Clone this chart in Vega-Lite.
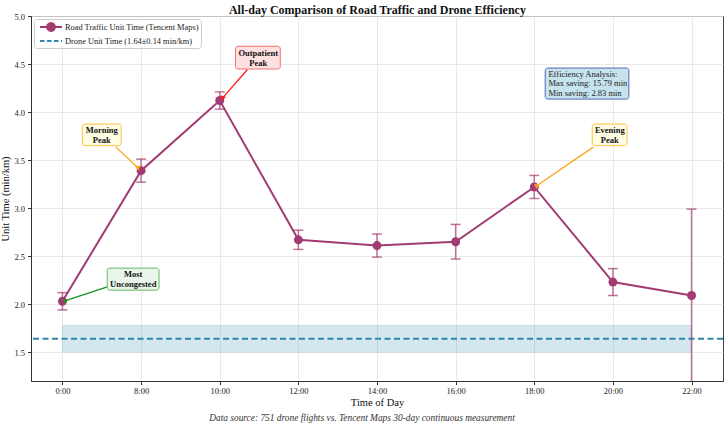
{
  "$schema": "https://vega.github.io/schema/vega-lite/v6.json",
  "autosize": {"type": "pad"},
  "padding": {"left": 0, "top": 3, "right": 2, "bottom": 2},
  "background": "white",
  "config": {
    "font": "Liberation Serif",
    "view": {"stroke": "#444", "strokeWidth": 1},
    "axis": {
      "grid": true,
      "gridColor": "#e3e3e3",
      "gridWidth": 0.8,
      "domainColor": "#333",
      "domainWidth": 1,
      "tickColor": "#333",
      "tickSize": 3.5,
      "labelFont": "Liberation Serif",
      "labelFontSize": 8.5,
      "labelColor": "#222",
      "labelPadding": 3,
      "titleFont": "Liberation Serif",
      "titleFontSize": 10.5,
      "titleFontWeight": "normal",
      "titleColor": "#111"
    }
  },
  "title": {
    "text": "All-day Comparison of Road Traffic and Drone Efficiency",
    "font": "Liberation Serif",
    "fontSize": 12,
    "fontWeight": "bold",
    "color": "#111",
    "anchor": "middle",
    "dx": 15,
    "offset": -5
  },
  "datasets": {
    "road": [
      {"slot": 0, "time": "0:00", "value": 2.03, "sd": 0.09, "series": "Road Traffic Unit Time (Tencent Maps)"},
      {"slot": 1, "time": "8:00", "value": 3.39, "sd": 0.12, "series": "Road Traffic Unit Time (Tencent Maps)"},
      {"slot": 2, "time": "10:00", "value": 4.12, "sd": 0.09, "series": "Road Traffic Unit Time (Tencent Maps)"},
      {"slot": 3, "time": "12:00", "value": 2.67, "sd": 0.10, "series": "Road Traffic Unit Time (Tencent Maps)"},
      {"slot": 4, "time": "14:00", "value": 2.61, "sd": 0.12, "series": "Road Traffic Unit Time (Tencent Maps)"},
      {"slot": 5, "time": "16:00", "value": 2.65, "sd": 0.18, "series": "Road Traffic Unit Time (Tencent Maps)"},
      {"slot": 6, "time": "18:00", "value": 3.22, "sd": 0.12, "series": "Road Traffic Unit Time (Tencent Maps)"},
      {"slot": 7, "time": "20:00", "value": 2.23, "sd": 0.14, "series": "Road Traffic Unit Time (Tencent Maps)"},
      {"slot": 8, "time": "22:00", "value": 2.09, "sd": 0.90, "series": "Road Traffic Unit Time (Tencent Maps)"}
    ],
    "drone": [
      {"series": "Drone Unit Time (1.64±0.14 min/km)", "value": 1.64, "lo": 1.50, "hi": 1.78, "from": 0, "to": 8}
    ],
    "notes": [
      {"label": "Outpatient\nPeak", "kind": "outpatient", "tx": 2.49, "ty": 4.612, "bx0": 2.20, "bx1": 2.77, "by0": 4.685, "by1": 4.448, "ax0": 2.35, "ay0": 4.44, "ax1": 2.04, "ay1": 4.15},
      {"label": "Morning\nPeak", "kind": "peak", "tx": 0.50, "ty": 3.81, "bx0": 0.253, "bx1": 0.747, "by0": 3.875, "by1": 3.65, "ax0": 0.68, "ay0": 3.635, "ax1": 0.96, "ay1": 3.42},
      {"label": "Evening\nPeak", "kind": "peak", "tx": 6.96, "ty": 3.81, "bx0": 6.737, "bx1": 7.18, "by0": 3.875, "by1": 3.65, "ax0": 6.75, "ay0": 3.635, "ax1": 6.03, "ay1": 3.232},
      {"label": "Most\nUncongested", "kind": "calm", "tx": 0.90, "ty": 2.31, "bx0": 0.57, "bx1": 1.228, "by0": 2.375, "by1": 2.146, "ax0": 0.57, "ay0": 2.18, "ax1": 0.03, "ay1": 2.033}
    ],
    "summary": [
      {"text": "Efficiency Analysis:\nMax saving: 15.79 min\nMin saving: 2.83 min", "x0": 6.139, "x1": 7.203, "y0": 4.458, "y1": 4.135, "tx": 6.18, "ty": 4.398}
    ]
  },
  "spacing": 0,
  "vconcat": [
    {
      "width": 692,
      "height": 365,
      "title": {
        "text": "Data source: 751 drone flights vs. Tencent Maps 30-day continuous measurement",
        "orient": "bottom",
        "anchor": "middle",
        "font": "Liberation Serif",
        "fontSize": 9.4,
        "fontStyle": "italic",
        "fontWeight": "normal",
        "color": "#333",
        "dx": -15,
        "offset": 6
      },
      "resolve": {"scale": {"fill": "independent", "stroke": "independent"}},
      "encoding": {
        "x": {
          "type": "quantitative",
          "scale": {"domain": [-0.4, 8.4], "nice": false, "zero": false},
          "axis": {
            "title": "Time of Day",
            "values": [0, 1, 2, 3, 4, 5, 6, 7, 8],
            "labelExpr": "['0:00','8:00','10:00','12:00','14:00','16:00','18:00','20:00','22:00'][datum.value]",
            "labelPadding": 2,
            "titlePadding": 2
          }
        },
        "y": {
          "type": "quantitative",
          "scale": {"domain": [1.2, 5.0], "nice": false, "zero": false},
          "axis": {
            "title": "Unit Time (min/km)",
            "values": [1.5, 2.0, 2.5, 3.0, 3.5, 4.0, 4.5, 5.0],
            "format": ".1f",
            "titlePadding": 3
          }
        }
      },
      "layer": [
        {
          "data": {"name": "drone"},
          "mark": {"type": "rect", "fill": "#2E86AB", "fillOpacity": 0.2, "stroke": "#2E86AB", "strokeOpacity": 0.15, "strokeWidth": 0.8},
          "encoding": {
            "x": {"field": "from"},
            "x2": {"field": "to"},
            "y": {"field": "lo"},
            "y2": {"field": "hi"}
          }
        },
        {
          "data": {"name": "drone"},
          "mark": {"type": "rule", "strokeWidth": 1.8, "strokeDash": [6, 3.5]},
          "encoding": {
            "x": null,
            "y": {"field": "value"},
            "color": {"field": "series", "type": "nominal"}
          }
        },
        {
          "data": {"name": "road"},
          "mark": {"type": "errorbar", "color": "#A23B72", "opacity": 0.7, "thickness": 1.5, "ticks": {"size": 10, "thickness": 1.5}, "clip": true},
          "encoding": {
            "x": {"field": "slot"},
            "y": {"field": "value"},
            "yError": {"field": "sd"}
          }
        },
        {
          "data": {"name": "road"},
          "mark": {"type": "line", "strokeWidth": 2},
          "encoding": {
            "x": {"field": "slot"},
            "y": {"field": "value"},
            "color": {
              "field": "series",
              "type": "nominal",
              "scale": {
                "domain": ["Road Traffic Unit Time (Tencent Maps)", "Drone Unit Time (1.64±0.14 min/km)"],
                "range": ["#A23B72", "#2E86AB"]
              },
              "legend": {
                "title": null,
                "orient": "top-left",
                "offset": 3,
                "padding": 2,
                "cornerRadius": 3,
                "fillColor": "white",
                "strokeColor": "#cccccc",
                "labelFont": "Liberation Serif",
                "labelFontSize": 8.4,
                "labelColor": "#222",
                "labelOffset": 17,
                "symbolSize": 100,
                "symbolStrokeWidth": 1.8,
                "rowPadding": 0,
                "encode": {
                  "symbols": {
                    "update": {
                      "shape": {"signal": "indexof(datum.value, 'Drone') === 0 ? 'M-0.4,0L4,0' : 'M-0.4,0L4,0M2.6,0A0.8,0.8,0,1,1,1,0A0.8,0.8,0,1,1,2.6,0Z'"},
                      "strokeDash": {"signal": "indexof(datum.value, 'Drone') === 0 ? [4.5, 2.5] : [1, 0]"},
                      "fill": {"signal": "indexof(datum.value, 'Drone') === 0 ? 'transparent' : '#A23B72'"},
                      "fillOpacity": {"value": 1},
                      "strokeWidth": {"value": 1.8}
                    }
                  }
                }
              }
            }
          }
        },
        {
          "data": {"name": "road"},
          "mark": {"type": "circle", "size": 80, "color": "#A23B72", "opacity": 1},
          "encoding": {
            "x": {"field": "slot"},
            "y": {"field": "value"}
          }
        },
        {
          "data": {"name": "notes"},
          "mark": {"type": "rule", "strokeWidth": 1.3},
          "encoding": {
            "x": {"field": "ax0"},
            "y": {"field": "ay0"},
            "x2": {"field": "ax1"},
            "y2": {"field": "ay1"},
            "stroke": {
              "field": "kind",
              "type": "nominal",
              "scale": {"domain": ["outpatient", "peak", "calm"], "range": ["#ff1a1a", "#ffa21a", "#1f8f1f"]},
              "legend": null
            }
          }
        },
        {
          "data": {"name": "notes"},
          "mark": {
            "type": "point",
            "shape": "triangle",
            "filled": true,
            "size": 30,
            "opacity": 1,
            "angle": {"expr": "atan2((datum.ax1 - datum.ax0) * 78.64, (datum.ay0 - datum.ay1) * 96.05) * 180 / PI"}
          },
          "encoding": {
            "x": {"field": "ax1"},
            "y": {"field": "ay1"},
            "fill": {
              "field": "kind",
              "type": "nominal",
              "scale": {"domain": ["outpatient", "peak", "calm"], "range": ["#ff1a1a", "#ffa21a", "#1f8f1f"]},
              "legend": null
            }
          }
        },
        {
          "data": {"name": "notes"},
          "mark": {"type": "rect", "cornerRadius": 2.5, "strokeWidth": 1},
          "encoding": {
            "x": {"field": "bx0"},
            "x2": {"field": "bx1"},
            "y": {"field": "by0"},
            "y2": {"field": "by1"},
            "fill": {
              "field": "kind",
              "type": "nominal",
              "scale": {"domain": ["outpatient", "peak", "calm"], "range": ["#ffe0e0", "#fffde3", "#eaf6ea"]},
              "legend": null
            },
            "stroke": {
              "field": "kind",
              "type": "nominal",
              "scale": {"domain": ["outpatient", "peak", "calm"], "range": ["#f07070", "#ffc040", "#60b860"]},
              "legend": null
            }
          }
        },
        {
          "data": {"name": "notes"},
          "mark": {"type": "text", "lineBreak": "\n", "font": "Liberation Serif", "fontSize": 8.5, "fontWeight": "bold", "color": "#111", "align": "center", "baseline": "middle", "lineHeight": 9.5},
          "encoding": {
            "x": {"field": "tx"},
            "y": {"field": "ty"},
            "text": {"field": "label"}
          }
        },
        {
          "data": {"name": "summary"},
          "mark": {"type": "rect", "cornerRadius": 2.5, "fill": "#c6e3ee", "stroke": "#5566bb", "strokeWidth": 1},
          "encoding": {
            "x": {"field": "x0"},
            "x2": {"field": "x1"},
            "y": {"field": "y0"},
            "y2": {"field": "y1"}
          }
        },
        {
          "data": {"name": "summary"},
          "mark": {"type": "text", "lineBreak": "\n", "font": "Liberation Serif", "fontSize": 8.5, "color": "#222", "align": "left", "baseline": "middle", "lineHeight": 9.6},
          "encoding": {
            "x": {"field": "tx"},
            "y": {"field": "ty"},
            "text": {"field": "text"}
          }
        }
      ]
    }
  ]
}
